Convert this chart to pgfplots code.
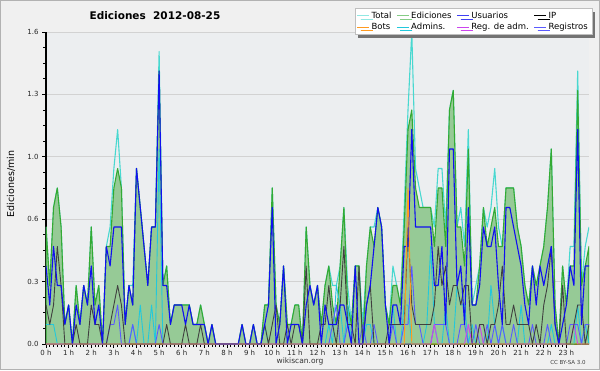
\documentclass[border=0pt]{standalone}
\usepackage{fontspec}
\setmainfont{DejaVu Sans}
\usepackage{pgfplots}
\usepackage{pgfplotstable}
\pgfplotsset{compat=1.18}
\usetikzlibrary{shadows}

\definecolor{cTotal}{HTML}{48D8D0}
\definecolor{cEdic}{HTML}{33AA33}
\definecolor{cEdicFill}{HTML}{96CA96}
\definecolor{cUser}{HTML}{1010F0}
\definecolor{cIP}{HTML}{404040}
\definecolor{cBots}{HTML}{FF9A20}
\definecolor{cAdm}{HTML}{22C8DC}
\definecolor{cRegAdm}{HTML}{CC44EE}
\definecolor{cReg}{HTML}{5A5AFF}
\definecolor{cBg}{HTML}{F0F0F0}
\definecolor{cPlotBg}{HTML}{ECEEF0}

\pgfplotstableread{
i U IP E T A R RA B
0 0.4 0.2 0.6 0.6 0.1 0 0 0
1 0.2 0.1 0.3 0.3 0.1 0 0 0
2 0.5 0.2 0.7 0.7 0.1 0 0 0
3 0.3 0.5 0.8 0.8 0 0 0 0
4 0.3 0.3 0.6 0.6 0 0 0 0
5 0.1 0 0.1 0.1 0 0 0 0
6 0.2 0 0.2 0.2 0 0 0 0
7 0 0 0 0 0 0 0 0
8 0.2 0.1 0.3 0.3 0 0 0 0
9 0.1 0 0.1 0.1 0 0 0 0
10 0.3 0 0.3 0.3 0 0 0 0
11 0.2 0 0.2 0.2 0 0 0 0
12 0.4 0.2 0.6 0.6 0 0 0 0
13 0.1 0.1 0.2 0.2 0 0 0 0
14 0.2 0.1 0.3 0.3 0 0 0 0
15 0 0 0 0 0 0 0 0
16 0.5 0 0.5 0.5 0 0 0 0
17 0.4 0.1 0.5 0.6 0 0.1 0 0
18 0.6 0.2 0.8 0.9 0 0.1 0 0
19 0.6 0.3 0.9 1.1 0 0.2 0 0
20 0.6 0.2 0.8 0.8 0 0 0 0
21 0.1 0 0.1 0.1 0 0 0 0
22 0.3 0 0.3 0.3 0 0 0 0
23 0.2 0 0.2 0.3 0.1 0.1 0 0
24 0.9 0 0.9 0.9 0 0 0 0
25 0.7 0 0.7 0.7 0.2 0 0 0
26 0.5 0 0.5 0.5 0 0 0 0
27 0.3 0 0.3 0.3 0 0 0 0
28 0.6 0 0.6 0.6 0.2 0 0 0
29 0.6 0 0.6 0.6 0 0 0 0
30 1.4 0 1.4 1.5 1.0 0.1 0 0
31 0.3 0 0.3 0.3 0 0 0 0
32 0.3 0.1 0.4 0.4 0 0 0 0
33 0.1 0 0.1 0.1 0 0 0 0
34 0.2 0 0.2 0.2 0 0 0 0
35 0.2 0 0.2 0.2 0 0 0 0
36 0.2 0 0.2 0.2 0 0 0 0
37 0.1 0.1 0.2 0.2 0 0 0 0
38 0.2 0 0.2 0.2 0 0 0 0
39 0.1 0 0.1 0.1 0 0 0 0
40 0.1 0 0.1 0.1 0 0 0 0
41 0.1 0.1 0.2 0.2 0 0 0 0
42 0.1 0 0.1 0.1 0 0 0 0
43 0 0 0 0 0 0 0 0
44 0.1 0 0.1 0.1 0 0 0 0
45 0 0 0 0 0 0 0 0
46 0 0 0 0 0 0 0 0
47 0 0 0 0 0 0 0 0
48 0 0 0 0 0 0 0 0
49 0 0 0 0 0 0 0 0
50 0 0 0 0 0 0 0 0
51 0 0 0 0 0 0 0 0
52 0.1 0 0.1 0.1 0 0 0 0
53 0 0 0 0 0 0 0 0
54 0 0 0 0 0 0 0 0
55 0.1 0 0.1 0.1 0 0 0 0
56 0 0 0 0 0 0 0 0
57 0 0 0 0 0 0 0 0
58 0.1 0.1 0.2 0.2 0.1 0 0 0
59 0.2 0 0.2 0.2 0 0 0 0
60 0.7 0.1 0.8 0.8 0 0 0 0
61 0 0.2 0.2 0.2 0 0 0 0
62 0.1 0 0.1 0.1 0 0 0 0
63 0.4 0 0.4 0.4 0 0 0 0
64 0 0.1 0.1 0.1 0 0 0 0
65 0.1 0 0.1 0.1 0 0 0 0
66 0.1 0.1 0.2 0.2 0 0 0 0
67 0.1 0.1 0.2 0.2 0 0 0 0
68 0 0 0 0 0 0 0 0
69 0.2 0.4 0.6 0.6 0 0 0 0
70 0.3 0 0.3 0.3 0 0 0 0
71 0.2 0 0.2 0.2 0 0 0 0
72 0.3 0 0.3 0.3 0 0 0 0
73 0 0.1 0.1 0.1 0 0 0 0
74 0.2 0.1 0.3 0.3 0 0 0 0
75 0.1 0.3 0.4 0.4 0.1 0 0 0
76 0.1 0.1 0.2 0.3 0 0.1 0 0
77 0.1 0 0.1 0.3 0.3 0.2 0 0
78 0.2 0.2 0.4 0.4 0.2 0 0 0
79 0.2 0.5 0.7 0.7 0 0 0 0
80 0.1 0.1 0.2 0.3 0.2 0.1 0 0
81 0 0.1 0.1 0.1 0 0 0 0
82 0.4 0 0.4 0.4 0 0 0 0
83 0 0.4 0.4 0.4 0 0 0 0
84 0 0 0 0.1 0 0.1 0 0
85 0.2 0.2 0.4 0.4 0.1 0 0 0
86 0.3 0.3 0.6 0.6 0.1 0 0 0
87 0.5 0 0.5 0.6 0 0.1 0 0
88 0.7 0 0.7 0.7 0 0 0 0
89 0.6 0 0.6 0.6 0 0 0 0
90 0.2 0 0.2 0.2 0 0 0 0
91 0 0.1 0.1 0.1 0 0 0 0
92 0.2 0.1 0.3 0.4 0.2 0.1 0 0
93 0.2 0.1 0.3 0.3 0 0 0 0
94 0.1 0.1 0.2 0.2 0 0 0 0
95 0.5 0.1 0.6 0.7 0.2 0.1 0 0
96 0.5 0.6 1.1 1.2 0.2 0.1 0 0.8
97 1.1 0.2 1.2 1.6 0 0.4 0 0
98 0.6 0.1 0.8 0.9 0 0.1 0 0
99 0.6 0.1 0.7 0.8 0 0.1 0 0
100 0.6 0.1 0.7 0.7 0 0 0 0
101 0.6 0.1 0.7 0.7 0.1 0 0 0
102 0.6 0.1 0.7 0.7 0.5 0 0 0
103 0.3 0.2 0.5 0.6 0.1 0.1 0.1 0
104 0.3 0.5 0.8 0.9 0 0.1 0 0
105 0.5 0.3 0.8 0.9 0 0.1 0 0
106 0.1 0.4 0.5 0.6 0.2 0.1 0 0
107 1.0 0.2 1.2 1.2 0 0 0 0
108 1.0 0.3 1.3 1.3 0 0 0 0
109 0.3 0.3 0.6 0.6 0.3 0 0 0
110 0.4 0.2 0.6 0.7 0.2 0.1 0 0
111 0.1 0.3 0.4 0.5 0.2 0.1 0 0
112 0.7 0.3 1.0 1.1 0 0 0.1 0
113 0.2 0 0.2 0.2 0.1 0 0 0
114 0.2 0 0.2 0.3 0 0.1 0 0
115 0.3 0.1 0.4 0.4 0 0 0.1 0
116 0.6 0.1 0.7 0.7 0 0 0 0
117 0.5 0 0.5 0.6 0 0.1 0 0
118 0.5 0.1 0.6 0.7 0.3 0 0 0
119 0.6 0.1 0.7 0.9 0.1 0.1 0 0
120 0.3 0.2 0.5 0.6 0 0 0 0
121 0.1 0.4 0.5 0.5 0.1 0.1 0 0
122 0.7 0.1 0.8 0.8 0 0 0 0
123 0.7 0.1 0.8 0.8 0 0 0 0
124 0.6 0.2 0.8 0.8 0 0.1 0 0
125 0.5 0.1 0.6 0.6 0 0 0 0
126 0.4 0.1 0.5 0.5 0.2 0 0 0
127 0.2 0.1 0.3 0.3 0 0 0 0
128 0.1 0.1 0.2 0.2 0 0 0 0
129 0.4 0 0.4 0.4 0 0.1 0 0
130 0.2 0.1 0.3 0.3 0 0 0 0
131 0.4 0 0.4 0.4 0 0 0 0
132 0.3 0.2 0.5 0.5 0 0 0 0
133 0.4 0.3 0.7 0.7 0 0.1 0 0
134 0.5 0.5 1.0 1.0 0.1 0 0 0
135 0.1 0.1 0.2 0.2 0 0 0 0
136 0 0 0 0 0 0 0 0
137 0.1 0.3 0.4 0.4 0 0 0 0
138 0.2 0 0.2 0.2 0 0 0 0
139 0.4 0 0.4 0.5 0 0.1 0 0
140 0.3 0.1 0.4 0.5 0 0.1 0.1 0
141 1.1 0.2 1.3 1.4 0.2 0.1 0 0
142 0.1 0.2 0.3 0.3 0 0 0 0
143 0.4 0 0.4 0.5 0.1 0.1 0 0
144 0.4 0.1 0.5 0.6 0 0.1 0 0
}\data

\begin{document}
\begin{tikzpicture}
\useasboundingbox (0pt,0pt) rectangle (600pt,370pt);
\fill[cBg] (0pt,0pt) rectangle (600pt,370pt);
\draw[gray!60] (0.5pt,0.5pt) rectangle (599.5pt,369.5pt);
\begin{axis}[
  at={(46pt,26pt)}, anchor=south west,
  scale only axis, width=543pt, height=312pt,
  xmin=0, xmax=144, ymin=0, ymax=1.6,
  axis background/.style={fill=cPlotBg},
  axis x line*=bottom, axis y line*=left,
  axis line style={black, line width=1.2pt},
  tick align=outside,
  major tick length=4pt, minor tick length=3pt,
  tick style={black, line width=0.8pt},
  xtick={0,6,...,138},
  xticklabels={0 h,1 h,2 h,3 h,4 h,5 h,6 h,7 h,8 h,9 h,10 h,11 h,12 h,13 h,14 h,15 h,16 h,17 h,18 h,19 h,20 h,21 h,22 h,23 h},
  minor x tick num=5,
  ytick={0,0.32,0.64,0.96,1.28,1.6},
  yticklabels={0.0,0.3,0.6,1.0,1.3,1.6},
  minor y tick num=3,
  ymajorgrids,
  major grid style={gray!35, line width=0.8pt},
  tick label style={font=\fontsize{7}{8}\selectfont, text=black!85},
  xticklabel style={yshift=1pt},
  /pgf/number format/assume math mode=true,
  every axis plot/.append style={no markers, line join=round},
  legend columns=4,
  legend cell align=left,
  legend image code/.code={\draw[#1, line width=0.8pt] (0pt,0pt) -- (12pt,0pt);},
  legend style={at={(axis description cs:1.0055,1.077)}, anchor=north east,
    draw=gray!50, fill=white, font=\fontsize{8.5}{10}\selectfont,
    inner xsep=2pt, inner ysep=1.5pt, row sep=-0.5pt,
    drop shadow={shadow xshift=3.5pt, shadow yshift=-3.5pt, fill=black!55, opacity=1},
    /tikz/every even column/.append style={column sep=3pt}},
]
\addlegendimage{cTotal!60}\addlegendentry{Total}
\addlegendimage{cEdic!60}\addlegendentry{Ediciones}
\addlegendimage{cUser!80}\addlegendentry{Usuarios}
\addlegendimage{black}\addlegendentry{IP}
\addlegendimage{cBots}\addlegendentry{Bots}
\addlegendimage{cAdm}\addlegendentry{Admins.}
\addlegendimage{cRegAdm}\addlegendentry{Reg. de adm.}
\addlegendimage{cReg}\addlegendentry{Registros}

\addplot[cTotal, line width=1.1pt, forget plot] table[x=i,y=T]{\data};
\addplot[draw=cEdic, line width=1.1pt, fill=cEdicFill, forget plot] table[x=i,y=E]{\data} \closedcycle;
\addplot[cAdm, line width=0.9pt, forget plot] table[x=i,y=A]{\data};
\addplot[cReg, line width=0.9pt, forget plot] table[x=i,y=R]{\data};
\addplot[cRegAdm, line width=0.9pt, forget plot] table[x=i,y=RA]{\data};
\addplot[cIP, line width=0.9pt, forget plot] table[x=i,y=IP]{\data};
\addplot[cUser, line width=1.1pt, forget plot] table[x=i,y=U]{\data};
\addplot[cBots, line width=0.9pt, forget plot] table[x=i,y=B]{\data};
\end{axis}
\node[font=\bfseries\fontsize{10.5}{12}\selectfont] at (155pt,354pt) {Ediciones\ \ 2012-08-25};
\node[rotate=90, font=\fontsize{9.5}{11}\selectfont] at (11pt,186pt) {Ediciones/min};
\node[font=\fontsize{7.5}{9}\selectfont, text=black!80] at (300pt,9pt) {wikiscan.org};
\node[font=\fontsize{5.5}{7}\selectfont, text=black!75] at (568pt,8pt) {CC BY-SA 3.0};
\end{tikzpicture}
\end{document}
